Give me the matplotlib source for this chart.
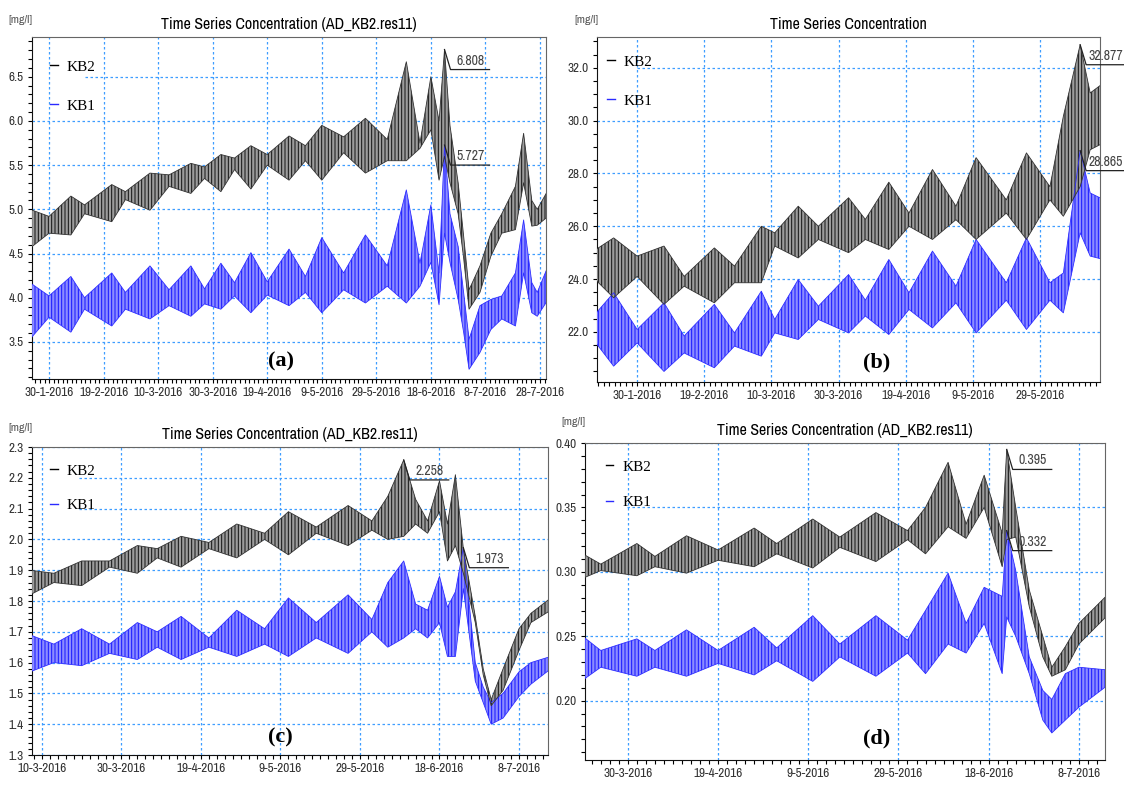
#浓度时间序列 (KB1 / KB2) 四幅子图
import matplotlib
matplotlib.use('Agg')
import matplotlib.pyplot as plt
import matplotlib.dates as mdates
import numpy as np
from datetime import datetime
from matplotlib.lines import Line2D
from matplotlib.ticker import MultipleLocator
from matplotlib.transforms import IdentityTransform

plt.rcParams['font.family'] = ['Archivo Narrow', 'Liberation Sans', 'DejaVu Sans']
plt.rcParams['hatch.linewidth'] = 0.7

# ---- (a) ----
a_dates = ['2016-01-23', '2016-01-30', '2016-02-07', '2016-02-12', '2016-02-22', '2016-02-27',
           '2016-03-07', '2016-03-14', '2016-03-22', '2016-03-27', '2016-04-02', '2016-04-07',
           '2016-04-13', '2016-04-19', '2016-04-27', '2016-05-03', '2016-05-09', '2016-05-17',
           '2016-05-25', '2016-06-02', '2016-06-09', '2016-06-14', '2016-06-18', '2016-06-21',
           '2016-06-23', '2016-06-25', '2016-06-28', '2016-06-30', '2016-07-02', '2016-07-06',
           '2016-07-10', '2016-07-14', '2016-07-19', '2016-07-22', '2016-07-25', '2016-07-27',
           '2016-07-31']
a_kb2_hi = [5.00, 4.92, 5.15, 5.05, 5.28, 5.20, 5.41, 5.39, 5.52, 5.48, 5.62, 5.58, 5.72, 5.62,
            5.83, 5.72, 5.95, 5.82, 6.03, 5.79, 6.67, 5.75, 6.50, 6.00, 6.808, 5.95, 5.30, 4.70,
            4.09, 4.36, 4.73, 4.95, 5.26, 5.86, 5.10, 5.00, 5.22]
a_kb2_lo = [4.56, 4.73, 4.71, 4.95, 4.86, 5.11, 4.99, 5.26, 5.18, 5.35, 5.20, 5.45, 5.23, 5.50,
            5.33, 5.55, 5.33, 5.64, 5.41, 5.55, 5.55, 5.69, 5.90, 5.33, 5.60, 5.30, 4.95, 4.45,
            3.87, 4.06, 4.47, 4.73, 4.77, 5.30, 4.81, 4.82, 4.92]
a_kb1_hi = [4.17, 4.02, 4.24, 4.00, 4.28, 4.06, 4.36, 4.09, 4.36, 4.10, 4.39, 4.17, 4.51, 4.18,
            4.55, 4.24, 4.68, 4.28, 4.71, 4.36, 5.22, 4.39, 5.05, 4.28, 5.727, 4.95, 4.58, 4.06,
            3.53, 3.91, 3.98, 4.02, 4.28, 4.88, 4.17, 4.06, 4.36]
a_kb1_lo = [3.53, 3.78, 3.61, 3.87, 3.68, 3.87, 3.76, 3.91, 3.79, 3.93, 3.87, 4.02, 3.83, 4.03,
            3.91, 4.06, 3.83, 4.09, 3.94, 4.13, 3.94, 4.13, 4.40, 3.92, 4.73, 4.40, 3.98, 3.61,
            3.19, 3.38, 3.64, 3.76, 3.68, 4.28, 3.83, 3.79, 3.98]
a_xticks = ['30-1-2016', '19-2-2016', '10-3-2016', '30-3-2016', '19-4-2016', '9-5-2016',
            '29-5-2016', '18-6-2016', '8-7-2016', '28-7-2016']
a_yticks = [3.5, 4.0, 4.5, 5.0, 5.5, 6.0, 6.5]

# ---- (b) ----
b_dates = ['2016-01-17', '2016-01-23', '2016-01-30', '2016-02-07', '2016-02-13', '2016-02-22',
           '2016-02-28', '2016-03-07', '2016-03-11', '2016-03-18', '2016-03-24', '2016-04-02',
           '2016-04-07', '2016-04-14', '2016-04-20', '2016-04-27', '2016-05-04', '2016-05-10',
           '2016-05-19', '2016-05-25', '2016-06-01', '2016-06-05', '2016-06-10', '2016-06-13',
           '2016-06-17']
b_kb2_hi = [25.06, 25.56, 24.87, 25.25, 24.10, 25.18, 24.49, 26.00, 25.75, 26.76, 26.00, 27.08,
            26.26, 27.67, 26.50, 28.15, 26.76, 28.60, 27.00, 28.78, 27.50, 30.17, 32.877, 31.05,
            31.43]
b_kb2_lo = [24.05, 23.29, 24.10, 23.04, 23.73, 23.10, 23.86, 23.86, 25.25, 24.80, 25.50, 25.00,
            25.50, 25.12, 26.00, 25.50, 26.25, 25.50, 26.50, 25.50, 27.00, 26.38, 27.50, 28.90,
            29.16]
b_kb1_hi = [22.60, 23.48, 22.09, 23.10, 21.84, 23.04, 21.96, 23.54, 22.47, 23.98, 22.97, 24.17,
            23.20, 24.74, 23.48, 25.06, 23.73, 25.50, 23.86, 25.56, 23.86, 24.23, 28.865, 27.26,
            27.01]
b_kb1_lo = [21.70, 20.70, 21.58, 20.50, 21.20, 20.64, 21.46, 21.08, 21.96, 21.71, 22.47, 21.96,
            22.60, 21.90, 22.85, 22.15, 23.10, 21.96, 23.20, 22.09, 23.20, 22.72, 25.75, 24.87,
            24.74]
b_xticks = ['30-1-2016', '19-2-2016', '10-3-2016', '30-3-2016', '19-4-2016', '9-5-2016',
            '29-5-2016']
b_yticks = [22.0, 24.0, 26.0, 28.0, 30.0, 32.0]

# ---- (c) ----
c_dates = ['2016-03-07', '2016-03-13', '2016-03-20', '2016-03-27', '2016-04-03', '2016-04-08',
           '2016-04-14', '2016-04-21', '2016-04-28', '2016-05-05', '2016-05-11', '2016-05-18',
           '2016-05-26', '2016-06-01', '2016-06-05', '2016-06-09', '2016-06-12', '2016-06-15',
           '2016-06-18', '2016-06-20', '2016-06-22', '2016-06-24', '2016-06-27', '2016-06-29',
           '2016-07-01', '2016-07-04', '2016-07-08', '2016-07-11', '2016-07-16']
c_kb2_hi = [1.90, 1.89, 1.93, 1.93, 1.98, 1.97, 2.01, 1.99, 2.05, 2.02, 2.09, 2.04, 2.11, 2.06,
            2.14, 2.258, 2.13, 2.06, 2.19, 2.05, 2.21, 1.97, 1.75, 1.58, 1.48, 1.58, 1.71, 1.76,
            1.81]
c_kb2_lo = [1.82, 1.86, 1.85, 1.91, 1.89, 1.94, 1.91, 1.97, 1.94, 2.00, 1.95, 2.02, 1.98, 2.03,
            2.00, 2.01, 2.05, 2.02, 2.09, 1.93, 1.98, 1.89, 1.73, 1.56, 1.46, 1.51, 1.64, 1.73,
            1.77]
c_kb1_hi = [1.69, 1.66, 1.71, 1.66, 1.73, 1.70, 1.75, 1.68, 1.77, 1.71, 1.81, 1.73, 1.82, 1.74,
            1.86, 1.93, 1.79, 1.77, 1.88, 1.78, 1.83, 1.973, 1.60, 1.52, 1.47, 1.50, 1.57, 1.60,
            1.62]
c_kb1_lo = [1.57, 1.60, 1.59, 1.63, 1.61, 1.65, 1.61, 1.65, 1.62, 1.66, 1.62, 1.68, 1.63, 1.70,
            1.65, 1.68, 1.71, 1.68, 1.73, 1.62, 1.62, 1.84, 1.54, 1.47, 1.40, 1.42, 1.49, 1.53,
            1.58]
c_xticks = ['10-3-2016', '30-3-2016', '19-4-2016', '9-5-2016', '29-5-2016', '18-6-2016',
            '8-7-2016']
c_yticks = [1.3, 1.4, 1.5, 1.6, 1.7, 1.8, 1.9, 2.0, 2.1, 2.2, 2.3]

# ---- (d) ----
d_dates = ['2016-03-20', '2016-03-24', '2016-04-01', '2016-04-05', '2016-04-12', '2016-04-19',
           '2016-04-27', '2016-05-02', '2016-05-10', '2016-05-16', '2016-05-24', '2016-05-31',
           '2016-06-04', '2016-06-09', '2016-06-13', '2016-06-17', '2016-06-21', '2016-06-22',
           '2016-06-24', '2016-06-27', '2016-06-30', '2016-07-02', '2016-07-05', '2016-07-08',
           '2016-07-14']
d_kb2_hi = [0.314, 0.306, 0.322, 0.312, 0.328, 0.317, 0.334, 0.322, 0.341, 0.327, 0.346, 0.332,
            0.350, 0.385, 0.337, 0.375, 0.330, 0.395, 0.350, 0.286, 0.250, 0.226, 0.242, 0.260,
            0.281]
d_kb2_lo = [0.295, 0.301, 0.297, 0.304, 0.299, 0.309, 0.304, 0.314, 0.303, 0.319, 0.308, 0.325,
            0.314, 0.335, 0.326, 0.350, 0.304, 0.325, 0.327, 0.273, 0.234, 0.219, 0.224, 0.244,
            0.265]
d_kb1_hi = [0.250, 0.239, 0.248, 0.239, 0.255, 0.239, 0.257, 0.241, 0.266, 0.244, 0.266, 0.247,
            0.270, 0.299, 0.260, 0.288, 0.281, 0.332, 0.301, 0.234, 0.208, 0.201, 0.221, 0.226,
            0.224]
d_kb1_lo = [0.216, 0.226, 0.219, 0.226, 0.219, 0.229, 0.220, 0.231, 0.215, 0.234, 0.219, 0.237,
            0.221, 0.244, 0.237, 0.260, 0.221, 0.265, 0.250, 0.221, 0.185, 0.175, 0.185, 0.195,
            0.211]
d_xticks = ['30-3-2016', '19-4-2016', '9-5-2016', '29-5-2016', '18-6-2016', '8-7-2016']
d_yticks = [0.20, 0.25, 0.30, 0.35, 0.40]

GRID = '#3d9dff'
W, H = 1124, 785


def to_num(strings):
    return mdates.date2num(np.array(strings, dtype='datetime64[D]'))


def tick_num(labels):
    return [mdates.date2num(datetime.strptime(s, '%d-%m-%Y')) for s in labels]


def mark_peak(fig, ax, x, vals):
    """峰值标注: 斜线 + 下划线 + 数值"""
    i = int(np.argmax(vals))
    px, py = ax.transData.transform((x[i], vals[i]))
    fig.add_artist(Line2D([px, px + 6, px + 45], [py, py - 20, py - 20], color='#222222',
                          lw=0.9, transform=IdentityTransform()))
    fig.text(px + 26, py - 11, f'{vals[i]:.3f}', transform=IdentityTransform(), ha='center',
             va='center', fontsize=10, color='#444444')


def draw_panel(fig, p):
    l, t, r, b = p['box']
    ax = fig.add_axes([l / W, 1 - b / H, (r - l) / W, (b - t) / H])
    x = to_num(p['dates'])

    # 两条序列的包络带
    ax.fill_between(x, p['kb1_lo'], p['kb1_hi'], facecolor='#8c8cff', edgecolor='#1414ff',
                    hatch='|||||', linewidth=0, zorder=3)
    ax.plot(x, p['kb1_hi'], color='#3030ff', lw=0.6, zorder=4)
    ax.plot(x, p['kb1_lo'], color='#3030ff', lw=0.6, zorder=4)
    ax.fill_between(x, p['kb2_lo'], p['kb2_hi'], facecolor='#9c9c9c', edgecolor='#111111',
                    hatch='|||||', linewidth=0, zorder=3)
    ax.plot(x, p['kb2_hi'], color='#333333', lw=0.6, zorder=4)
    ax.plot(x, p['kb2_lo'], color='#333333', lw=0.6, zorder=4)

    ax.set_xlim(mdates.date2num(np.datetime64(p['xlim'][0], 'h')),
                mdates.date2num(np.datetime64(p['xlim'][1], 'h')))
    ax.set_ylim(*p['ylim'])

    xt = tick_num(p['xticks'])
    ax.set_xticks(xt, p['xticks'])
    ax.xaxis.set_minor_locator(MultipleLocator(p['xminor'], offset=10))
    ax.set_yticks(p['yticks'], [p['yfmt'].format(v) for v in p['yticks']])
    ax.yaxis.set_minor_locator(MultipleLocator(p['yminor']))

    # 网格 (图例处的横线从右边开始)
    for v in xt:
        ax.axvline(v, color=GRID, ls=(0, (2, 2)), lw=0.9, zorder=1)
    for v in p['yticks']:
        start = p['gap'] if any(abs(v - g) < 1e-9 for g in p['gapped']) else 0
        ax.axhline(v, xmin=start, color=GRID, ls=(0, (2, 2)), lw=0.9, zorder=1)

    ax.tick_params(which='both', direction='out', length=3, width=0.8, labelsize=9.5,
                   labelcolor='#333333', top=False, right=False, pad=3)
    for side in ['left', 'bottom']:
        ax.spines[side].set_color('#111111')
    for side in ['top', 'right']:
        ax.spines[side].set_color('#666666')
        ax.spines[side].set_linewidth(0.8)

    ax.set_title(p['title'], fontsize=11.5, pad=6)
    ax.text(p['tag_pos'][0], p['tag_pos'][1], p['tag'], transform=ax.transAxes, ha='center',
            va='center', fontsize=16, fontweight='bold', family='Liberation Serif', zorder=6)

    handles = [Line2D([], [], color='black', lw=1), Line2D([], [], color='#2a2aff', lw=1)]
    ax.legend(handles, ['KB2', 'KB1'], loc='upper left', bbox_to_anchor=p['leg_pos'],
              frameon=False, borderpad=0, handlelength=0.5, handletextpad=0.6,
              labelspacing=p['leg_space'], prop={'family': 'Liberation Serif', 'size': 11})

    fig.text(p['unit_pos'][0] / W, 1 - p['unit_pos'][1] / H, '[mg/l]', ha='center',
             va='center', fontsize=8.5, color='#555555')

    mark_peak(fig, ax, x, p['kb2_hi'])
    mark_peak(fig, ax, x, p['kb1_hi'])
    return ax


def main():
    fig = plt.figure(figsize=(W / 100, H / 100), dpi=100)

    panels = [
        dict(box=(32, 37, 546, 379), dates=a_dates, kb2_hi=a_kb2_hi, kb2_lo=a_kb2_lo,
             kb1_hi=a_kb1_hi, kb1_lo=a_kb1_lo, xlim=('2016-01-23T18', '2016-07-30T05'),
             ylim=(3.08, 6.95), xticks=a_xticks, xminor=20 / 12, yticks=a_yticks,
             yfmt='{:.1f}', yminor=0.1, gapped=[6.5], gap=0.103,
             title='Time Series Concentration (AD_KB2.res11)', tag='(a)', tag_pos=(0.484, 0.05),
             leg_pos=(0.02, 0.955), leg_space=1.65, unit_pos=(20, 20)),
        dict(box=(597, 37, 1100, 382), dates=b_dates, kb2_hi=b_kb2_hi, kb2_lo=b_kb2_lo,
             kb1_hi=b_kb1_hi, kb1_lo=b_kb1_lo, xlim=('2016-01-18T01', '2016-06-15T22'),
             ylim=(20.1, 33.17), xticks=b_xticks, xminor=20 / 12, yticks=b_yticks,
             yfmt='{:.1f}', yminor=0.5, gapped=[32.0], gap=0.08,
             title='Time Series Concentration', tag='(b)', tag_pos=(0.555, 0.058),
             leg_pos=(0.005, 0.97), leg_space=1.65, unit_pos=(586, 20)),
        dict(box=(32, 447, 548, 755), dates=c_dates, kb2_hi=c_kb2_hi, kb2_lo=c_kb2_lo,
             kb1_hi=c_kb1_hi, kb1_lo=c_kb1_lo, xlim=('2016-03-07T12', '2016-07-15T07'),
             ylim=(1.3, 2.3), xticks=c_xticks, xminor=2, yticks=c_yticks,
             yfmt='{:.1f}', yminor=0.02, gapped=[2.2, 2.1], gap=0.091,
             title='Time Series Concentration (AD_KB2.res11)', tag='(c)', tag_pos=(0.481, 0.058),
             leg_pos=(0.02, 0.97), leg_space=1.35, unit_pos=(20, 428)),
        dict(box=(585, 443, 1105, 760), dates=d_dates, kb2_hi=d_kb2_hi, kb2_lo=d_kb2_lo,
             kb1_hi=d_kb1_hi, kb1_lo=d_kb1_lo, xlim=('2016-03-20T12', '2016-07-13T19'),
             ylim=(0.154, 0.40), xticks=d_xticks, xminor=2, yticks=d_yticks,
             yfmt='{:.2f}', yminor=0.01, gapped=[0.35], gap=0.081,
             title='Time Series Concentration (AD_KB2.res11)', tag='(d)', tag_pos=(0.56, 0.069),
             leg_pos=(0.025, 0.97), leg_space=1.4, unit_pos=(573, 422)),
    ]
    for p in panels:
        draw_panel(fig, p)

    fig.savefig('out.png', dpi=100)


if __name__ == "__main__":
    main()
